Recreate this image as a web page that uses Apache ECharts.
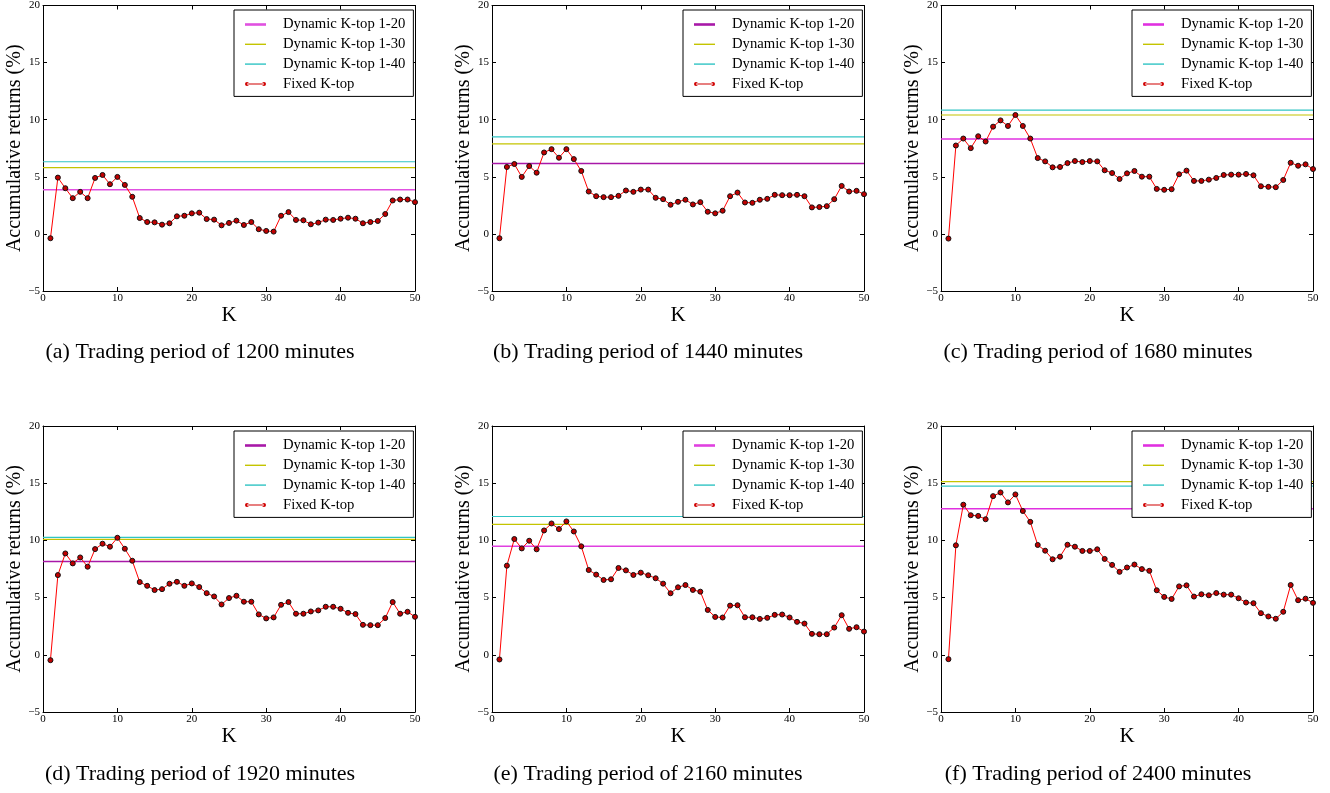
<!DOCTYPE html>
<html>
<head>
<meta charset="utf-8">
<script src="https://cdn.jsdelivr.net/npm/echarts@6/dist/echarts.min.js"></script>
<style>
  html, body { margin: 0; padding: 0; background: #fff; }
  #chart { width: 1330px; height: 793px; }
</style>
</head>
<body>
<div id="chart"></div>
<script>
// K values on the x axis
const kValues = Array.from({ length: 50 }, (_, i) => i + 1);
const xTicks = [0, 10, 20, 30, 40, 50];
const yTicks = [-5, 0, 5, 10, 15, 20];

const captions = [
  '(a) Trading period of 1200 minutes',
  '(b) Trading period of 1440 minutes',
  '(c) Trading period of 1680 minutes',
  '(d) Trading period of 1920 minutes',
  '(e) Trading period of 2160 minutes',
  '(f) Trading period of 2400 minutes'
];

// dynamic K-top levels, one per panel
const dyn20 = [3.86, 6.17, 8.32, 8.16, 9.48, 12.77];
const dyn30 = [5.80, 7.88, 10.41, 10.09, 11.40, 15.14];
const dyn40 = [6.32, 8.49, 10.84, 10.26, 12.09, 14.74];

// fixed K-top, K = 1..50
const fixedA = [-0.38, 4.93, 4.00, 3.13, 3.68, 3.13, 4.90, 5.16, 4.35, 4.99,
  4.29, 3.25, 1.39, 1.04, 1.01, 0.81, 0.93, 1.54, 1.59, 1.80,
  1.86, 1.30, 1.25, 0.75, 0.96, 1.16, 0.78, 1.04, 0.41, 0.26,
  0.20, 1.59, 1.91, 1.22, 1.19, 0.84, 0.99, 1.25, 1.22, 1.33,
  1.42, 1.33, 0.93, 1.04, 1.13, 1.74, 2.93, 3.01, 3.01, 2.78];
const fixedB = [-0.38, 5.86, 6.12, 4.99, 5.94, 5.36, 7.13, 7.42, 6.67, 7.42,
  6.55, 5.51, 3.71, 3.30, 3.22, 3.22, 3.33, 3.80, 3.68, 3.88,
  3.88, 3.16, 3.04, 2.55, 2.81, 2.99, 2.58, 2.78, 1.94, 1.80,
  2.03, 3.30, 3.62, 2.75, 2.72, 2.99, 3.07, 3.42, 3.39, 3.39,
  3.42, 3.30, 2.32, 2.35, 2.43, 3.04, 4.20, 3.71, 3.77, 3.48];
const fixedC = [-0.41, 7.74, 8.35, 7.51, 8.55, 8.09, 9.39, 9.94, 9.45, 10.41,
  9.45, 8.35, 6.64, 6.35, 5.83, 5.86, 6.20, 6.38, 6.29, 6.38,
  6.35, 5.57, 5.33, 4.81, 5.30, 5.51, 5.01, 5.01, 3.94, 3.86,
  3.91, 5.22, 5.54, 4.64, 4.64, 4.75, 4.90, 5.16, 5.19, 5.19,
  5.25, 5.13, 4.17, 4.12, 4.09, 4.72, 6.23, 5.97, 6.09, 5.68];
const fixedD = [-0.47, 6.97, 8.86, 7.99, 8.51, 7.70, 9.24, 9.71, 9.45, 10.23,
  9.27, 8.22, 6.36, 6.03, 5.66, 5.74, 6.21, 6.38, 6.03, 6.24,
  5.92, 5.39, 5.10, 4.40, 4.96, 5.16, 4.64, 4.64, 3.53, 3.18,
  3.27, 4.37, 4.61, 3.59, 3.59, 3.79, 3.88, 4.20, 4.20, 4.02,
  3.67, 3.56, 2.62, 2.59, 2.59, 3.21, 4.61, 3.59, 3.76, 3.32];
const fixedE = [-0.41, 7.79, 10.12, 9.30, 9.97, 9.22, 10.87, 11.48, 10.99, 11.66,
  10.78, 9.48, 7.41, 7.01, 6.54, 6.60, 7.59, 7.38, 6.98, 7.18,
  6.95, 6.69, 6.22, 5.38, 5.90, 6.10, 5.67, 5.52, 3.92, 3.31,
  3.26, 4.30, 4.33, 3.28, 3.28, 3.14, 3.23, 3.49, 3.52, 3.26,
  2.88, 2.73, 1.83, 1.80, 1.80, 2.38, 3.46, 2.27, 2.41, 2.03];
const fixedF = [-0.38, 9.57, 13.12, 12.20, 12.14, 11.85, 13.87, 14.19, 13.32, 14.02,
  12.57, 11.62, 9.60, 9.10, 8.35, 8.58, 9.62, 9.45, 9.08, 9.08,
  9.22, 8.38, 7.86, 7.25, 7.63, 7.89, 7.49, 7.34, 5.64, 5.06,
  4.88, 5.98, 6.07, 5.09, 5.29, 5.20, 5.40, 5.26, 5.26, 4.94,
  4.57, 4.51, 3.64, 3.35, 3.15, 3.76, 6.10, 4.77, 4.91, 4.54];
const fixedAll = [fixedA, fixedB, fixedC, fixedD, fixedE, fixedF];

const names = ['Dynamic K-top 1-20', 'Dynamic K-top 1-30', 'Dynamic K-top 1-40', 'Fixed K-top'];
const magenta = ['#e050e0', '#a818a8', '#e030e0', '#a818a8', '#e040e0', '#e030e0'];
const yellow = '#c4c400';
const cyan = '#30c4c4';

// legend icons: plain line, and line with a dot at each end
const lineIcon = 'path://M0,0L21,0L21,1.4L0,1.4Z';
const thickIcon = 'path://M0,0L21,0L21,2.6L0,2.6Z';
const dotIcon = 'path://M2,3.2L19,3.2L19,4.2L2,4.2Z' +
  'M0,3.7A2,2 0 1,0 4,3.7A2,2 0 1,0 0,3.7Z' +
  'M17,3.7A2,2 0 1,0 21,3.7A2,2 0 1,0 17,3.7Z';

const serif = 'Liberation Serif';
const gridLeft = [43, 492, 941];
const gridTop = [5, 426];
const gridW = 372, gridH = 286;

const grid = [], xAxis = [], yAxis = [], series = [], legend = [], graphic = [];

for (let p = 0; p < 6; p++) {
  const col = p % 3, row = Math.floor(p / 3);
  const left = gridLeft[col], top = gridTop[row];
  grid.push({ left: left, top: top, width: gridW, height: gridH });

  const tick = { show: true, inside: true, length: 4, lineStyle: { color: '#000', width: 1 } };
  const line = { show: true, onZero: false, lineStyle: { color: '#000', width: 1 } };
  xAxis.push({
    gridIndex: p, type: 'value', min: 0, max: 50, interval: 10, position: 'bottom',
    axisLine: line, axisTick: tick, splitLine: { show: false },
    axisLabel: { fontFamily: serif, fontSize: 11, color: '#000', margin: 2 },
    name: 'K', nameLocation: 'middle', nameGap: 12,
    nameTextStyle: { fontFamily: serif, fontSize: 21, color: '#000' }
  });
  xAxis.push({
    gridIndex: p, type: 'value', min: 0, max: 50, interval: 10, position: 'top',
    axisLine: line, axisTick: tick, splitLine: { show: false }, axisLabel: { show: false }
  });
  yAxis.push({
    gridIndex: p, type: 'value', min: -5, max: 20, interval: 5, position: 'left',
    axisLine: line, axisTick: tick, splitLine: { show: false },
    axisLabel: {
      fontFamily: serif, fontSize: 11, color: '#000', margin: 3,
      formatter: v => (v < 0 ? '\u2212' + Math.abs(v) : String(v))
    },
    name: 'Accumulative returns (%)', nameLocation: 'middle', nameGap: 14, nameRotate: 90,
    nameTextStyle: { fontFamily: serif, fontSize: 20, color: '#000' }
  });
  yAxis.push({
    gridIndex: p, type: 'value', min: -5, max: 20, interval: 5, position: 'right',
    axisLine: line, axisTick: tick, splitLine: { show: false }, axisLabel: { show: false }
  });

  const xi = p * 2, yi = p * 2;
  const levels = [dyn20[p], dyn30[p], dyn40[p]];
  const colors = [magenta[p], yellow, cyan];
  levels.forEach((v, j) => {
    series.push({
      name: names[j], type: 'line', xAxisIndex: xi, yAxisIndex: yi,
      data: [[0, v], [50, v]], symbol: 'none', silent: true,
      lineStyle: { color: colors[j], width: j === 0 ? 1.5 : 1.2 },
      itemStyle: { color: colors[j] }
    });
  });
  series.push({
    name: names[3], type: 'line', xAxisIndex: xi, yAxisIndex: yi,
    data: kValues.map((k, i) => [k, fixedAll[p][i]]),
    symbol: 'circle', symbolSize: 5,
    lineStyle: { color: '#ff0000', width: 1 },
    itemStyle: { color: '#c00000', borderColor: '#111', borderWidth: 1 }
  });

  legend.push({
    orient: 'vertical', left: left + 191, top: top + 5,
    backgroundColor: '#fff', borderColor: '#000', borderWidth: 1,
    padding: [7, 8, 5, 11], itemGap: 4.8, itemWidth: 21, itemHeight: 14,
    selectedMode: false,
    textStyle: { fontFamily: serif, fontSize: 14.7, color: '#000', padding: [0, 0, 0, 12] },
    data: [
      { name: names[0], icon: thickIcon, itemStyle: { color: magenta[p] } },
      { name: names[1], icon: lineIcon, itemStyle: { color: yellow } },
      { name: names[2], icon: lineIcon, itemStyle: { color: cyan } },
      { name: names[3], icon: dotIcon, itemStyle: { color: '#d00000', borderWidth: 0 } }
    ]
  });

  graphic.push({
    type: 'text',
    x: [200, 648, 1098][col], y: [352, 774][row],
    style: {
      text: captions[p], font: '22px "Liberation Serif"', fill: '#000',
      align: 'center', verticalAlign: 'middle'
    }
  });
}

const chart = echarts.init(document.getElementById('chart'));
chart.setOption({
  backgroundColor: '#fff',
  animation: false,
  grid, xAxis, yAxis, series, legend, graphic
});
</script>
</body>
</html>
